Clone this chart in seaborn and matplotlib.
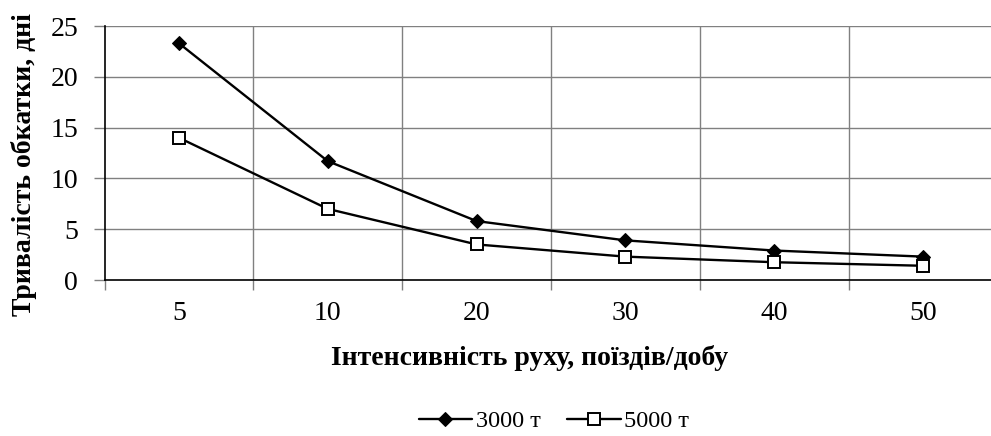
import numpy as np
import pandas as pd
import matplotlib
matplotlib.use("Agg")
import matplotlib.pyplot as plt
import seaborn as sns

categories = ["5", "10", "20", "30", "40", "50"]
series_3000 = [23.3, 11.7, 5.8, 3.9, 2.9, 2.3]
series_5000 = [14.0, 7.0, 3.5, 2.3, 1.75, 1.4]
series_names = ["3000 т", "5000 т"]
y_ticks = [0, 5, 10, 15, 20, 25]
x_label = "Інтенсивність руху, поїздів/добу"
y_label = "Тривалість обкатки, дні"

sns.set_theme(style="white")
plt.rcParams["font.family"] = ["Liberation Serif", "DejaVu Serif"]
plt.rcParams["text.color"] = "black"
plt.rcParams["axes.labelcolor"] = "black"
plt.rcParams["xtick.color"] = "black"
plt.rcParams["ytick.color"] = "black"

fig = plt.figure(figsize=(9.91, 4.36), dpi=100)
ax = fig.add_axes([104.5 / 991, 1 - 280 / 436, (997.5 - 104.5) / 991, (280 - 26) / 436])

pos = np.arange(len(categories))
df = pd.DataFrame({"pos": pos, "a": series_3000, "b": series_5000})

sns.lineplot(data=df, x="pos", y="a", ax=ax, color="black", lw=1.7,
             marker="D", markersize=7, markerfacecolor="black",
             markeredgecolor="black", label=series_names[0], zorder=4)
sns.lineplot(data=df, x="pos", y="b", ax=ax, color="black", lw=1.7,
             marker="s", markersize=9.2, markerfacecolor="white",
             markeredgecolor="black", markeredgewidth=1.4,
             label=series_names[1], zorder=4)

ax.set_xlim(-0.5, len(categories) - 0.5)
ax.set_ylim(0, 25)
ax.set_yticks(y_ticks)
ax.set_yticklabels([str(v) for v in y_ticks], fontsize=20)
ax.set_xticks(pos)
ax.set_xticklabels(categories, fontsize=20)
ax.set_xticks(np.arange(-0.5, len(categories)), minor=True)
ax.tick_params(axis="x", which="major", length=0, pad=15, labelcolor="black")
ax.tick_params(axis="x", which="minor", length=7, color="#808080", width=1, direction="out", bottom=True)
ax.tick_params(axis="y", which="major", length=8, color="#808080", width=1, direction="out",
               left=True, pad=11, labelcolor="black")

ax.grid(False)
for v in y_ticks[1:]:
    ax.axhline(v, color="#808080", lw=1, zorder=1)
for b in np.arange(0.5, len(categories) - 0.5):
    ax.axvline(b, color="#808080", lw=1, zorder=1)

for s in ["top", "right"]:
    ax.spines[s].set_visible(False)
ax.spines["left"].set_color("black")
ax.spines["bottom"].set_color("black")
ax.spines["left"].set_linewidth(1.2)
ax.spines["bottom"].set_linewidth(1.2)

ax.set_xlabel("")
ax.set_ylabel("")
fig.text(530 / 991, 1 - 358 / 436, x_label, ha="center", va="center",
         fontsize=20, fontweight="bold", color="black")
fig.text(24 / 991, 1 - 165 / 436, y_label, ha="center", va="center",
         rotation=90, fontsize=20, fontweight="bold", color="black")

ax.get_legend().remove()
handles, labels = ax.get_legend_handles_labels()
fig.legend(handles, labels, loc="center", bbox_to_anchor=(554 / 991, 1 - 421 / 436),
           ncol=2, frameon=False, fontsize=17.5, handlelength=2.2,
           handletextpad=0.15, columnspacing=1.1)

fig.savefig("out.png", dpi=100)
